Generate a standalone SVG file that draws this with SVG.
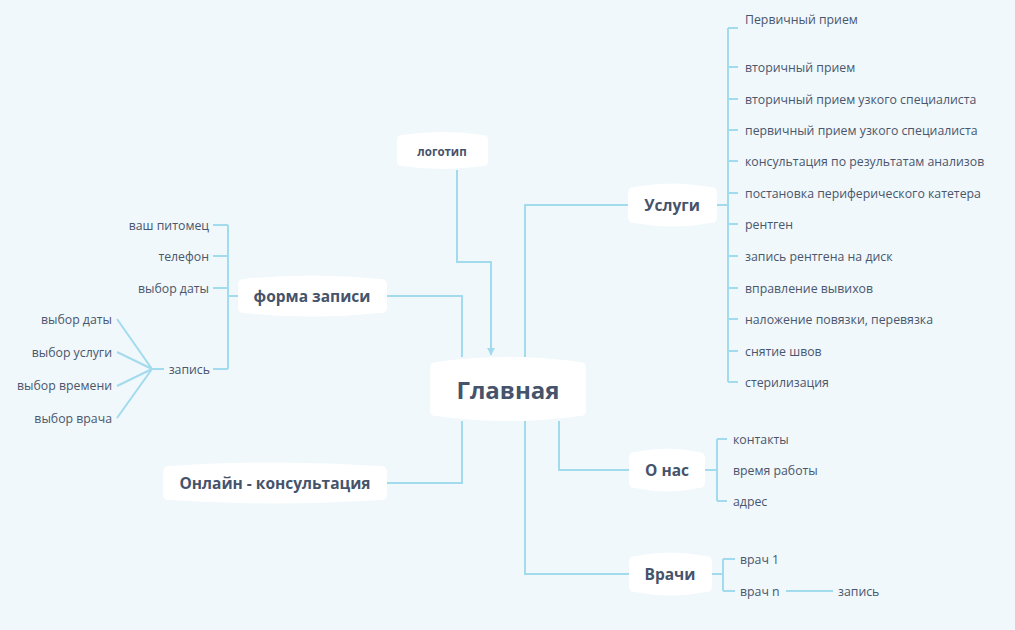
<svg xmlns="http://www.w3.org/2000/svg" width="1015" height="630" viewBox="0 0 1015 630">
<style>
.bg{fill:#f0f8fb}
.node{fill:#ffffff}
.ln{fill:none;stroke:#a3dbee;stroke-width:2}
.t{font-family:"Open Sans","Noto Sans",sans-serif;font-size:12.3px;fill:#4a566d;dominant-baseline:central}
.r{text-anchor:end}
.b{font-family:"Open Sans","Noto Sans",sans-serif;font-weight:bold;fill:#45536b;text-anchor:middle;dominant-baseline:central}
</style>
<defs>
<marker id="arr" viewBox="0 0 10 10" refX="9" refY="5" markerWidth="8" markerHeight="8" orient="auto" markerUnits="userSpaceOnUse">
<path d="M0,0 L10,5 L0,10 Z" fill="#a3dbee"/>
</marker>
</defs>
<rect class="bg" x="0" y="0" width="1015" height="630"/>
<g id="connectors">
<path class="ln" d="M457,170 V262 H491 V355" marker-end="url(#arr)"/>
<path class="ln" d="M525,357 V205 H628"/>
<path class="ln" d="M717,205 H728"/>
<path class="ln" d="M728,28 V382"/>
<path class="ln" d="M728,28 H738 M728,67 H738 M728,99 H738 M728,130 H738 M728,161 H738 M728,193 H738 M728,224 H738 M728,256 H738 M728,288 H738 M728,319 H738 M728,351 H738 M728,382 H738"/>
<path class="ln" d="M387,296 H462 V357"/>
<path class="ln" d="M238,296 H228"/>
<path class="ln" d="M228,225 V369"/>
<path class="ln" d="M213,225 H228 M213,256 H228 M213,288 H228 M213,369 H228"/>
<path class="ln" d="M164,369 H152 M152,369 L117,319 M152,369 L117,352 M152,369 L117,386 M152,369 L117,418"/>
<path class="ln" d="M387,483 H462 V421"/>
<path class="ln" d="M559,421 V470 H629"/>
<path class="ln" d="M705,470 H717 M717,439 V501 M717,439 H727 M717,501 H727"/>
<path class="ln" d="M525,421 V574 H629"/>
<path class="ln" d="M712,574 H723 M723,559 V591 M723,559 H735 M723,591 H735"/>
<path class="ln" d="M786,591 H833"/>
</g>
<g id="main">
<path class="node" d="M436,362 Q508,352 580,362 Q586,362 586,368 L586,410 Q586,416 580,416 Q508,426 436,416 Q430,416 430,410 L430,368 Q430,362 436,362 Z"/>
<text class="b" x="508" y="389" font-size="24">Главная</text>
</g>
<g id="logotip">
<path class="node" d="M402,135 Q442,129 483,135 Q488,135 488,140 L488,161 Q488,166 483,166 Q442,172 402,166 Q397,166 397,161 L397,140 Q397,135 402,135 Z"/>
<text class="b" x="442" y="151" font-size="11.5">логотип</text>
</g>
<g id="uslugi">
<path class="node" d="M634,187 Q672,180 711,187 Q717,187 717,193 L717,217 Q717,223 711,223 Q672,230 634,223 Q628,223 628,217 L628,193 Q628,187 634,187 Z"/>
<text class="b" x="672" y="205" font-size="15.5">Услуги</text>
</g>
<g id="uslugi-items">
<text class="t" x="745" y="19">Первичный прием</text>
<text class="t" x="745" y="67">вторичный прием</text>
<text class="t" x="745" y="99">вторичный прием узкого специалиста</text>
<text class="t" x="745" y="130">первичный прием узкого специалиста</text>
<text class="t" x="745" y="161">консультация по результатам анализов</text>
<text class="t" x="745" y="193">постановка периферического катетера</text>
<text class="t" x="745" y="224">рентген</text>
<text class="t" x="745" y="256">запись рентгена на диск</text>
<text class="t" x="745" y="288">вправление вывихов</text>
<text class="t" x="745" y="319">наложение повязки, перевязка</text>
<text class="t" x="745" y="351">снятие швов</text>
<text class="t" x="745" y="382">стерилизация</text>
</g>
<g id="forma">
<path class="node" d="M244,279 Q312,272 381,279 Q387,279 387,285 L387,307 Q387,313 381,313 Q312,320 244,313 Q238,313 238,307 L238,285 Q238,279 244,279 Z"/>
<text class="b" x="312" y="296" font-size="15.5">форма записи</text>
</g>
<g id="forma-items">
<text class="t r" x="209" y="225">ваш питомец</text>
<text class="t r" x="209" y="256">телефон</text>
<text class="t r" x="209" y="288">выбор даты</text>
<text class="t r" x="210" y="369">запись</text>
<text class="t r" x="112" y="319">выбор даты</text>
<text class="t r" x="112" y="352">выбор услуги</text>
<text class="t r" x="112" y="385">выбор времени</text>
<text class="t r" x="112" y="418">выбор врача</text>
</g>
<g id="online">
<path class="node" d="M169,466 Q275,459 381,466 Q387,466 387,472 L387,494 Q387,500 381,500 Q275,507 169,500 Q163,500 163,494 L163,472 Q163,466 169,466 Z"/>
<text class="b" x="275" y="483" font-size="15.5">Онлайн - консультация</text>
</g>
<g id="onas">
<path class="node" d="M635,452 Q667,445 699,452 Q705,452 705,458 L705,482 Q705,488 699,488 Q667,495 635,488 Q629,488 629,482 L629,458 Q629,452 635,452 Z"/>
<text class="b" x="667" y="470" font-size="15.5">О нас</text>
</g>
<g id="onas-items">
<text class="t" x="733" y="439">контакты</text>
<text class="t" x="733" y="470">время работы</text>
<text class="t" x="733" y="501">адрес</text>
</g>
<g id="vrachi">
<path class="node" d="M635,556 Q670,549 706,556 Q712,556 712,562 L712,586 Q712,592 706,592 Q670,599 635,592 Q629,592 629,586 L629,562 Q629,556 635,556 Z"/>
<text class="b" x="670" y="574" font-size="15.5">Врачи</text>
</g>
<g id="vrachi-items">
<text class="t" x="740" y="559">врач 1</text>
<text class="t" x="740" y="591">врач n</text>
<text class="t" x="838" y="591">запись</text>
</g>
</svg>
